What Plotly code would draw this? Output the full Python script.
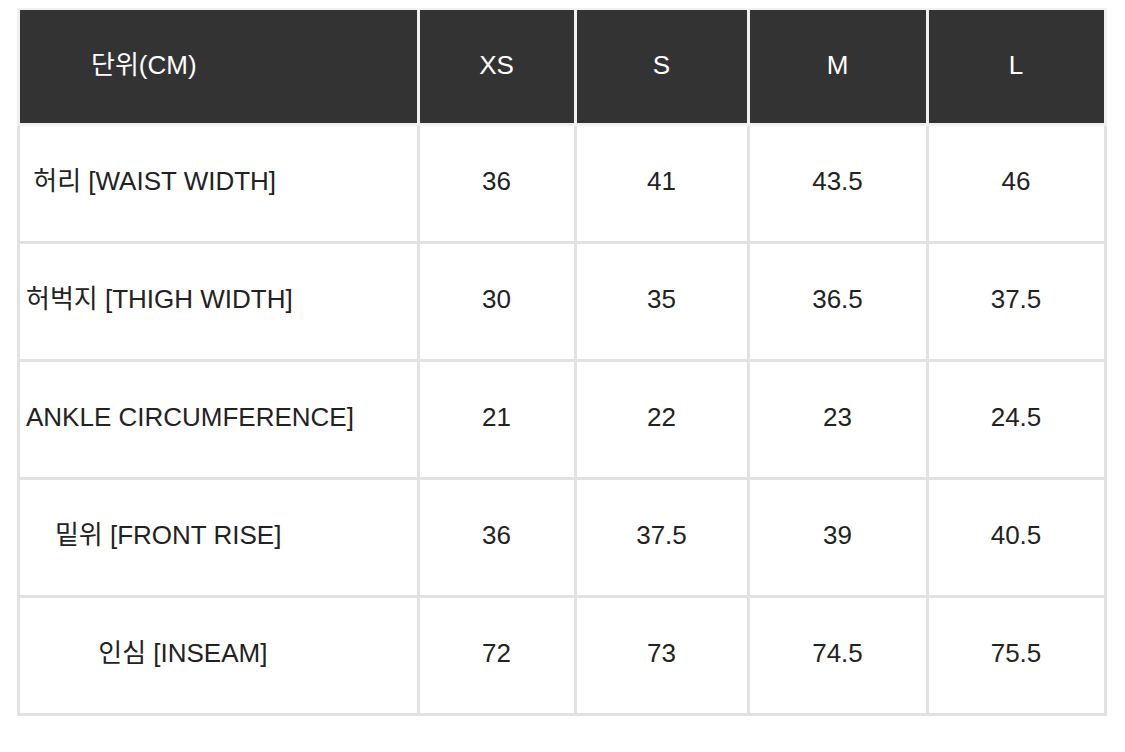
import plotly.graph_objects as go

sizes = ["XS", "S", "M", "L"]
header_label = "단위(CM)"
rows = ["허리 [WAIST WIDTH]", "허벅지 [THIGH WIDTH]", "ANKLE CIRCUMFERENCE]", "밑위 [FRONT RISE]", "인심 [INSEAM]"]
row_indent = [1, 0, 0, 4, 10]
xs = ["36", "30", "21", "36", "72"]
s = ["41", "35", "22", "37.5", "73"]
m = ["43.5", "36.5", "23", "39", "74.5"]
l = ["46", "37.5", "24.5", "40.5", "75.5"]

NB = "\u00a0"
PRE = NB + "<br>"
first_col = [PRE + NB * k + r for r, k in zip(rows, row_indent)]
cols = [first_col] + [[PRE + v for v in c] for c in (xs, s, m, l)]
hdr = [PRE + NB * 9 + header_label] + [PRE + z for z in sizes]

fig = go.Figure(go.Table(
    columnwidth=[400, 157, 173, 179, 178],
    header=dict(values=hdr, fill_color="#333333", line=dict(color="#f0f0f0", width=3),
                font=dict(color="white", size=26, family="Liberation Sans, Noto Sans CJK KR"),
                align=["left", "center", "center", "center", "center"], height=116),
    cells=dict(values=cols, fill_color="white", line=dict(color="#e2e2e2", width=3),
               font=dict(color="#222222", size=26, family="Liberation Sans, Noto Sans CJK KR"),
               align=["left", "center", "center", "center", "center"], height=118),
))
fig.update_layout(width=1125, height=752, margin=dict(l=10, r=28, t=0, b=0),
                  paper_bgcolor="white")
fig.write_html("out.html")
